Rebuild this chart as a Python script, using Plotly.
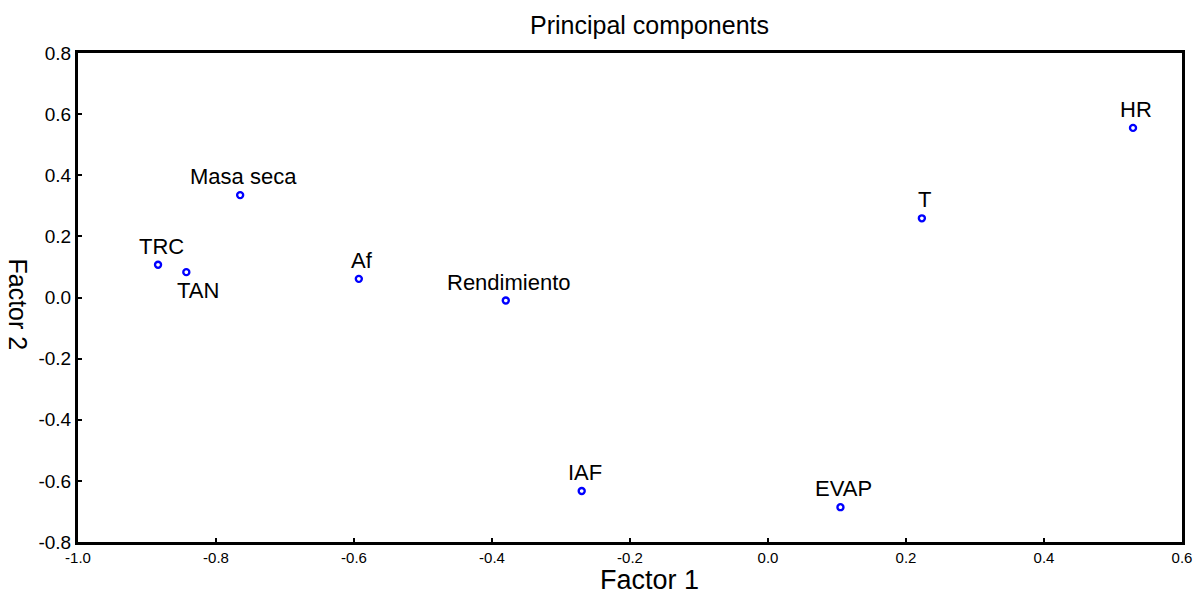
import plotly.graph_objects as go

variables = ["HR", "T", "Masa seca", "TRC", "TAN", "Af", "Rendimiento", "IAF", "EVAP"]
factor1 = [0.529, 0.223, -0.765, -0.884, -0.843, -0.593, -0.380, -0.270, 0.105]
factor2 = [0.555, 0.259, 0.335, 0.107, 0.083, 0.061, -0.010, -0.633, -0.686]
label_below = ["TAN"]
x_ticks = [-1.0, -0.8, -0.6, -0.4, -0.2, 0.0, 0.2, 0.4, 0.6]
y_ticks = [-0.8, -0.6, -0.4, -0.2, 0.0, 0.2, 0.4, 0.6, 0.8]

FONT = "Liberation Sans, Arial, sans-serif"

fig = go.Figure()
fig.add_trace(go.Scatter(
    x=factor1, y=factor2, mode="markers",
    marker=dict(symbol="circle-open", size=6, color="#0000ff", line=dict(width=2.4, color="#0000ff")),
    hovertext=variables, showlegend=False,
))

for name, xv, yv in zip(variables, factor1, factor2):
    below = name in label_below
    fig.add_annotation(
        x=xv, y=yv, text=name, showarrow=False,
        xanchor="center", yanchor="top" if below else "bottom",
        yshift=-4 if below else 4,
        xshift=12 if below else 3,
        font=dict(family=FONT, size=22, color="#000000"),
    )

# y-axis title (reads top to bottom)
fig.add_annotation(
    xref="paper", yref="paper", x=-0.054, y=0.485, text="Factor 2",
    showarrow=False, textangle=90, xanchor="center", yanchor="middle",
    font=dict(family=FONT, size=25, color="#000000"),
)
# x-axis title
fig.add_annotation(
    xref="paper", yref="paper", x=0.518, y=-0.078, text="Factor 1",
    showarrow=False, xanchor="center", yanchor="middle",
    font=dict(family=FONT, size=27, color="#000000"),
)

fig.update_layout(
    width=1194, height=594,
    margin=dict(l=78, r=12, t=53, b=52, autoexpand=False),
    paper_bgcolor="white", plot_bgcolor="white",
    title=dict(text="Principal components", x=0.544, xanchor="center", y=0.958, yanchor="middle",
               font=dict(family=FONT, size=25, color="#000000")),
    xaxis=dict(
        range=[-1.0, 0.6], tickvals=x_ticks, ticktext=[f"{v:.1f}" for v in x_ticks],
        showgrid=False, zeroline=False, showline=True, mirror=True, linewidth=3, linecolor="black",
        ticks="inside", ticklen=4, tickwidth=2, tickcolor="black", automargin=False,
        tickfont=dict(family=FONT, size=15, color="#000000"),
    ),
    yaxis=dict(
        range=[-0.8, 0.8], tickvals=y_ticks, ticktext=[f"{v:.1f}" for v in y_ticks],
        showgrid=False, zeroline=False, showline=True, mirror=True, linewidth=3, linecolor="black",
        ticks="inside", ticklen=4, tickwidth=2, tickcolor="black", automargin=False,
        tickfont=dict(family=FONT, size=19, color="#000000"),
    ),
)

fig.write_html(
    "out.html",
    config={"displayModeBar": False},
    post_script="document.body.style.margin='0';document.body.style.overflow='hidden';",
)
